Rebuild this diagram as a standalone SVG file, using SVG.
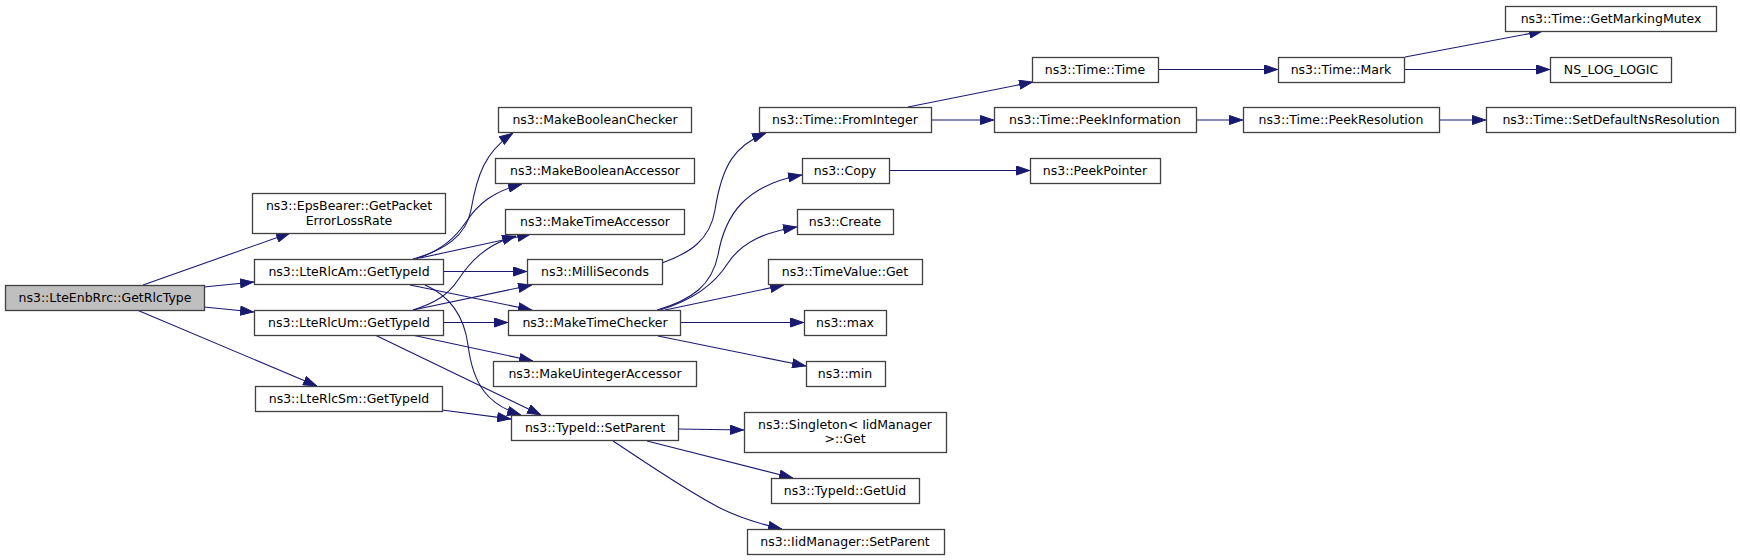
<svg xmlns="http://www.w3.org/2000/svg" width="1740" height="560" viewBox="0 0 1740 560">
<style>
.n rect{fill:#ffffff;stroke:#404040;stroke-width:1.3}
.n.root rect{fill:#bfbfbf}
.n text{font-family:"DejaVu Sans",sans-serif;font-size:12.5px;fill:#000000;text-anchor:middle}
#edges path{fill:none;stroke:#191970;stroke-width:1.1;marker-end:url(#ah)}
</style>
<defs>
<marker id="ah" markerUnits="userSpaceOnUse" markerWidth="14" markerHeight="10" refX="14" refY="5" orient="auto" viewBox="0 0 14 10">
<path d="M0.5,0.5 L13.5,5 L0.5,9.5 z" fill="#191970" stroke="#191970" stroke-width="1"/>
</marker>
</defs>
<rect width="1740" height="560" fill="#ffffff"/>
<g id="edges">
<path d="M143,285 L290,233"/>
<path d="M204,287 L254,282"/>
<path d="M204,307 L254,312"/>
<path d="M137,310 L317,386"/>
<path d="M413,259 C445,250 466,236 471,210 C477,175 485,152 513,133"/>
<path d="M416,259 C442,250 455,238 466,222 C478,204 492,192 522,184"/>
<path d="M420,258 L531,234"/>
<path d="M443,271.5 L527,271.5"/>
<path d="M410,285 L532,310"/>
<path d="M425,285 C448,295 464,315 468,345 C473,385 488,405 521,415"/>
<path d="M413,310 C435,303 448,295 458,280 C470,262 485,245 516,236"/>
<path d="M413,310 L532,285"/>
<path d="M443,322.5 L508,322.5"/>
<path d="M412,335 L533,361"/>
<path d="M375,335 L541,415"/>
<path d="M442,410 L511,419"/>
<path d="M662,263 C690,253 710,240 715,210 C722,165 735,145 766,133"/>
<path d="M657,310 C692,300 712,285 718,255 C725,215 745,185 802,175"/>
<path d="M660,310 C697,299 716,282 728,263 C742,242 765,232 797,227"/>
<path d="M665,310 L784,285"/>
<path d="M680,322.5 L804,322.5"/>
<path d="M658,336 L806,366"/>
<path d="M908,107 L1033,82"/>
<path d="M931,120 L994,120"/>
<path d="M889,170.5 L1030,170.5"/>
<path d="M1158,69.5 L1278,69.5"/>
<path d="M1196,120 L1243,120"/>
<path d="M1405,57 L1543,31"/>
<path d="M1404,69.5 L1550,69.5"/>
<path d="M1439,120 L1486,120"/>
<path d="M678,429 L744,430"/>
<path d="M647,441 L793,478"/>
<path d="M613,441 C645,462 685,490 720,508 C742,519 760,524 782,529"/>
</g>
<g id="n_GetRlcType" class="n root"><rect x="5.5" y="285.5" width="199" height="25"/><text x="105" y="302">ns3::LteEnbRrc::GetRlcType</text></g>
<g id="n_EpsBearer" class="n"><rect x="252.5" y="193.5" width="193" height="40"/><text x="349" y="210">ns3::EpsBearer::GetPacket</text><text x="349" y="224.5">ErrorLossRate</text></g>
<g id="n_LteRlcAm" class="n"><rect x="254.5" y="259.5" width="189" height="25"/><text x="349" y="276">ns3::LteRlcAm::GetTypeId</text></g>
<g id="n_LteRlcUm" class="n"><rect x="254.5" y="310.5" width="189" height="25"/><text x="349" y="327">ns3::LteRlcUm::GetTypeId</text></g>
<g id="n_LteRlcSm" class="n"><rect x="255.5" y="386.5" width="187" height="25"/><text x="349" y="403">ns3::LteRlcSm::GetTypeId</text></g>
<g id="n_MakeBooleanChecker" class="n"><rect x="498.5" y="107.5" width="193" height="25"/><text x="595" y="124">ns3::MakeBooleanChecker</text></g>
<g id="n_MakeBooleanAccessor" class="n"><rect x="495.5" y="158.5" width="199" height="25"/><text x="595" y="175">ns3::MakeBooleanAccessor</text></g>
<g id="n_MakeTimeAccessor" class="n"><rect x="505.5" y="209.5" width="179" height="25"/><text x="595" y="226">ns3::MakeTimeAccessor</text></g>
<g id="n_MilliSeconds" class="n"><rect x="527.5" y="259.5" width="135" height="25"/><text x="595" y="276">ns3::MilliSeconds</text></g>
<g id="n_MakeTimeChecker" class="n"><rect x="508.5" y="310.5" width="172" height="25"/><text x="595" y="327">ns3::MakeTimeChecker</text></g>
<g id="n_MakeUintegerAccessor" class="n"><rect x="493.5" y="361.5" width="203" height="25"/><text x="595" y="378">ns3::MakeUintegerAccessor</text></g>
<g id="n_TypeIdSetParent" class="n"><rect x="511.5" y="415.5" width="167" height="25"/><text x="595" y="432">ns3::TypeId::SetParent</text></g>
<g id="n_FromInteger" class="n"><rect x="759.5" y="107.5" width="172" height="25"/><text x="845" y="124">ns3::Time::FromInteger</text></g>
<g id="n_Copy" class="n"><rect x="802.5" y="158.5" width="87" height="25"/><text x="845" y="175">ns3::Copy</text></g>
<g id="n_Create" class="n"><rect x="797.5" y="209.5" width="96" height="25"/><text x="845" y="226">ns3::Create</text></g>
<g id="n_TimeValueGet" class="n"><rect x="768.5" y="259.5" width="154" height="25"/><text x="845" y="276">ns3::TimeValue::Get</text></g>
<g id="n_max" class="n"><rect x="804.5" y="310.5" width="82" height="25"/><text x="845" y="327">ns3::max</text></g>
<g id="n_min" class="n"><rect x="806.5" y="361.5" width="79" height="25"/><text x="845" y="378">ns3::min</text></g>
<g id="n_Singleton" class="n"><rect x="744.5" y="412.5" width="202" height="40"/><text x="845" y="428.5">ns3::Singleton&lt; IidManager</text><text x="845" y="443">&gt;::Get</text></g>
<g id="n_GetUid" class="n"><rect x="771.5" y="478.5" width="148" height="25"/><text x="845" y="495">ns3::TypeId::GetUid</text></g>
<g id="n_IidSetParent" class="n"><rect x="747.5" y="529.5" width="197" height="25"/><text x="845" y="546">ns3::IidManager::SetParent</text></g>
<g id="n_TimeTime" class="n"><rect x="1032.5" y="57.5" width="126" height="25"/><text x="1095" y="74">ns3::Time::Time</text></g>
<g id="n_PeekInformation" class="n"><rect x="994.5" y="107.5" width="202" height="25"/><text x="1095" y="124">ns3::Time::PeekInformation</text></g>
<g id="n_PeekPointer" class="n"><rect x="1030.5" y="158.5" width="130" height="25"/><text x="1095" y="175">ns3::PeekPointer</text></g>
<g id="n_Mark" class="n"><rect x="1278.5" y="57.5" width="126" height="25"/><text x="1341" y="74">ns3::Time::Mark</text></g>
<g id="n_PeekResolution" class="n"><rect x="1243.5" y="107.5" width="196" height="25"/><text x="1341" y="124">ns3::Time::PeekResolution</text></g>
<g id="n_GetMarkingMutex" class="n"><rect x="1505.5" y="6.5" width="211" height="25"/><text x="1611" y="23">ns3::Time::GetMarkingMutex</text></g>
<g id="n_NS_LOG_LOGIC" class="n"><rect x="1550.5" y="57.5" width="121" height="25"/><text x="1611" y="74">NS_LOG_LOGIC</text></g>
<g id="n_SetDefaultNsResolution" class="n"><rect x="1486.5" y="107.5" width="249" height="25"/><text x="1611" y="124">ns3::Time::SetDefaultNsResolution</text></g>
</svg>
